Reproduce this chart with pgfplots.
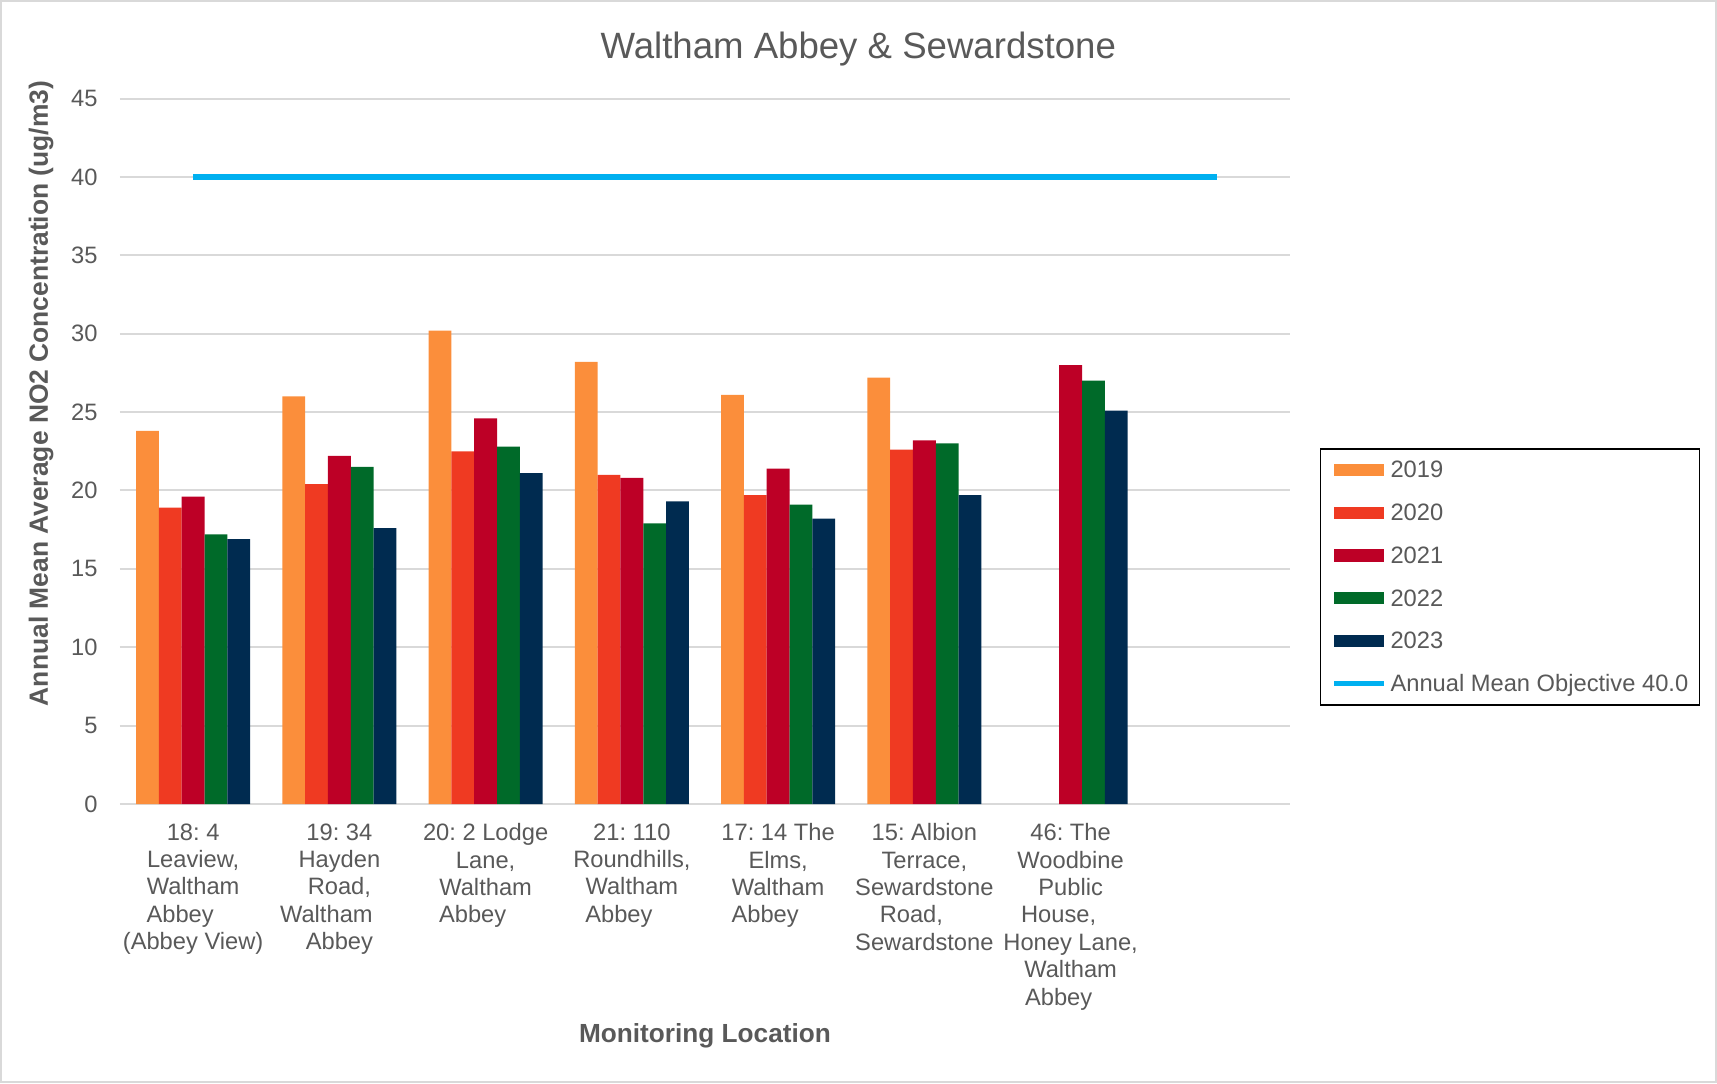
\documentclass[border=0pt]{standalone}
\usepackage{pgfplots}
\pgfplotsset{compat=1.18}
\usepackage{fontspec}
\setmainfont{Liberation Sans}
\frenchspacing
\definecolor{c2019}{HTML}{FB8E3B}
\definecolor{c2020}{HTML}{EF3A22}
\definecolor{c2021}{HTML}{BD0026}
\definecolor{c2022}{HTML}{006A29}
\definecolor{c2023}{HTML}{002B50}
\definecolor{cline}{HTML}{00B0F0}
\definecolor{txtgray}{HTML}{595959}
\definecolor{gridgray}{HTML}{D9D9D9}
\newcommand{\tr}{\rule{13pt}{0pt}}
\begin{document}
\begin{tikzpicture}
\useasboundingbox (-60pt,-139.5pt) rectangle (798.5pt,402pt);
\draw[gridgray, line width=1pt] (-59.5pt,-139pt) rectangle (798pt,401.5pt);
\begin{axis}[
  at={(0,0)}, anchor=south west,
  scale only axis, width=585pt, height=352.75pt,
  xmin=-0.5, xmax=7.5, ymin=0, ymax=45,
  enlarge x limits=false, enlarge y limits=false,
  ytick={0,5,...,45},
  xtick={0,1,2,3,4,5,6,7},
  xticklabels={
    {18: 4\\Leaview,\\Waltham\\Abbey\tr\\(Abbey View)},
    {19: 34\\Hayden\\Road,\\Waltham\tr\\Abbey},
    {20: 2 Lodge\\Lane,\\Waltham\\Abbey\tr},
    {21: 110\\Roundhills,\\Waltham\\Abbey\tr},
    {17: 14 The\\Elms,\\Waltham\\Abbey\tr},
    {15: Albion\\Terrace,\\Sewardstone\\Road,\tr\\Sewardstone},
    {46: The\\Woodbine\\Public\\House,\rule{12pt}{0pt}\\Honey Lane,\\Waltham\\Abbey\rule{12pt}{0pt}},
    {}},
  ybar=0pt, bar width=11.4pt,
  axis line style={draw=none},
  major tick length=0pt,
  ymajorgrids, grid style={gridgray, line width=1pt},
  /pgf/number format/assume math mode=true,
  tick label style={font=\fontsize{11.85}{13.7}\selectfont, text=txtgray},
  yticklabel style={anchor=east, inner sep=0pt, xshift=-11pt},
  xticklabel style={anchor=north, inner sep=0pt, align=center, yshift=-9.6pt},
  title={Waltham Abbey \& Sewardstone},
  title style={at={(axis description cs:0.631,1.0536)}, anchor=center, font=\fontsize{18.3}{22}\selectfont, text=txtgray},
  xlabel={Monitoring Location},
  xlabel style={at={(axis description cs:0.5,-0.3288)}, anchor=center, font=\fontsize{13.1}{15}\selectfont\bfseries, text=txtgray},
  ylabel={Annual Mean Average NO2 Concentration (ug/m3)},
  ylabel style={at={(axis description cs:-0.0675,0.582)}, anchor=center, font=\fontsize{13.2}{15}\selectfont\bfseries, text=txtgray},
  legend style={
    at={(axis description cs:1.0256,0.5046)}, anchor=north west,
    draw=black, line width=0.75pt, fill=white,
    inner xsep=5.6pt, inner ysep=5.9pt,
    /tikz/row sep=11.8pt, /tikz/column sep=1.8pt,
    font=\fontsize{11.85}{13.7}\selectfont, text=txtgray,
    nodes={inner sep=0pt, text height=8.7pt, text depth=0.85pt},
  },
  legend cell align=left,
]
\addplot[fill=c2019, draw=none, legend image code/.code={\fill[c2019] (0pt,-3.1pt) rectangle (25pt,3.1pt);}]
  coordinates {(0,23.8) (1,26.0) (2,30.2) (3,28.2) (4,26.1) (5,27.2)};
\addlegendentry{2019}
\addplot[fill=c2020, draw=none, legend image code/.code={\fill[c2020] (0pt,-3.1pt) rectangle (25pt,3.1pt);}]
  coordinates {(0,18.9) (1,20.4) (2,22.5) (3,21.0) (4,19.7) (5,22.6)};
\addlegendentry{2020}
\addplot[fill=c2021, draw=none, legend image code/.code={\fill[c2021] (0pt,-3.1pt) rectangle (25pt,3.1pt);}]
  coordinates {(0,19.6) (1,22.2) (2,24.6) (3,20.8) (4,21.4) (5,23.2) (6,28.0)};
\addlegendentry{2021}
\addplot[fill=c2022, draw=none, legend image code/.code={\fill[c2022] (0pt,-3.1pt) rectangle (25pt,3.1pt);}]
  coordinates {(0,17.2) (1,21.5) (2,22.8) (3,17.9) (4,19.1) (5,23.0) (6,27.0)};
\addlegendentry{2022}
\addplot[fill=c2023, draw=none, legend image code/.code={\fill[c2023] (0pt,-3.1pt) rectangle (25pt,3.1pt);}]
  coordinates {(0,16.9) (1,17.6) (2,21.1) (3,19.3) (4,18.2) (5,19.7) (6,25.1)};
\addlegendentry{2023}
\addplot[sharp plot, draw=cline, line width=3pt, mark=none, legend image code/.code={\draw[cline, line width=2.5pt] (0pt,0pt) -- (25pt,0pt);}]
  coordinates {(0,40) (7,40)};
\addlegendentry{Annual Mean Objective 40.0}
\end{axis}
\end{tikzpicture}
\end{document}
